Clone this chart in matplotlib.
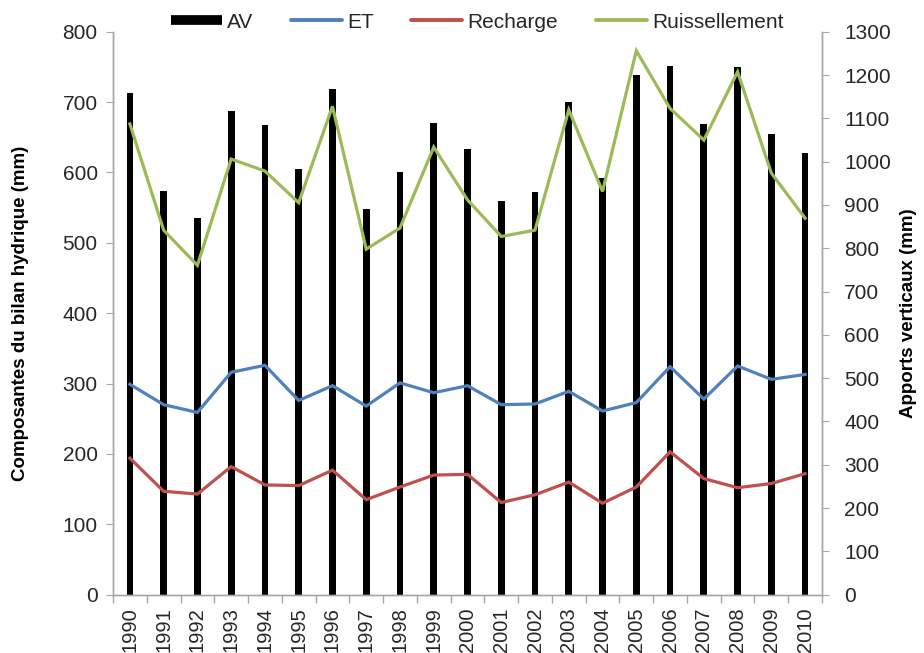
import numpy as np
import matplotlib
matplotlib.use("Agg")
import matplotlib.pyplot as plt
from matplotlib.lines import Line2D

plt.rcParams["font.family"] = ["Liberation Sans", "DejaVu Sans"]

years = [str(y) for y in range(1990, 2011)]

# Apports verticaux (mm), axe de droite
av = [1159, 933, 869, 1118, 1085, 984, 1168, 890, 975, 1090, 1028,
      910, 931, 1138, 962, 1200, 1221, 1088, 1218, 1064, 1020]

# Composantes du bilan (mm), axe de gauche
et = [299, 270, 259, 316, 326, 276, 297, 268, 301, 287, 297,
      270, 271, 289, 261, 273, 324, 278, 325, 306, 313]
recharge = [194, 147, 143, 182, 156, 155, 177, 135, 153, 170, 171,
            131, 142, 160, 130, 153, 203, 165, 152, 158, 172]
ruissellement = [669, 518, 468, 619, 602, 557, 694, 491, 521, 636, 561,
                 509, 518, 689, 573, 773, 691, 646, 743, 599, 535]

C_ET = "#4F81BD"
C_RE = "#C0504D"
C_RU = "#9BBB59"
GRID = "#A6A6A6"
TXT = "#262626"

fig = plt.figure(figsize=(9.24, 6.53), dpi=100)
ax = fig.add_axes([113 / 924, 1 - 594.7 / 653, (822 - 113) / 924, (594.7 - 31.7) / 653])
ax2 = ax.twinx()
# lines on the left axis must sit above the bars of the right axis
ax.set_zorder(ax2.get_zorder() + 1)
ax.patch.set_visible(False)

x = np.arange(len(years))
ax2.bar(x, av, width=0.2, color="black", zorder=2)
ax.plot(x, et, color=C_ET, lw=2.3, solid_joinstyle="miter")
ax.plot(x, recharge, color=C_RE, lw=2.3, solid_joinstyle="miter")
ax.plot(x, ruissellement, color=C_RU, lw=2.3, solid_joinstyle="miter")

ax.set_xlim(-0.5, len(years) - 0.5)
ax.set_ylim(0, 800)
ax2.set_ylim(0, 1300)
ax.set_yticks(range(0, 801, 100))
ax2.set_yticks(range(0, 1301, 100))

ax.set_xticks(x)
ax.set_xticklabels(years, rotation=90, va="top", fontsize=14.5, color=TXT)
ax.set_xticks(np.arange(-0.5, len(years)), minor=True)
ax.tick_params(axis="x", which="major", length=0, pad=9)
ax.tick_params(axis="x", which="minor", length=6, color=GRID, width=1)
ax.tick_params(axis="y", length=5, color=GRID, labelsize=15, labelcolor=TXT, pad=6)
ax2.tick_params(axis="y", length=5, color=GRID, labelsize=15, labelcolor=TXT, pad=11)
ax2.tick_params(axis="x", length=0)

for a in (ax, ax2):
    a.spines["top"].set_visible(False)
    for s in ("left", "right", "bottom"):
        a.spines[s].set_color(GRID)
        a.spines[s].set_linewidth(1)

ax.set_ylabel("Composantes du bilan hydrique (mm)", fontsize=13.5, fontweight="bold",
              color="black")
ax2.set_ylabel("Apports verticaux (mm)", fontsize=13.5, fontweight="bold",
               color="black")
ax.yaxis.set_label_coords(-0.118, 0.5)
ax2.yaxis.set_label_coords(1.110, 0.5)

handles = [
    Line2D([], [], color="black", lw=7, solid_capstyle="butt"),
    Line2D([], [], color=C_ET, lw=2.8, solid_capstyle="round"),
    Line2D([], [], color=C_RE, lw=2.8, solid_capstyle="round"),
    Line2D([], [], color=C_RU, lw=2.8, solid_capstyle="round"),
]
fig.legend(handles, ["AV", "ET", "Recharge", "Ruissellement"], ncol=4,
           loc="center", bbox_to_anchor=(477 / 924, 1 - 22 / 653), frameon=False,
           fontsize=15, handlelength=2.45, handletextpad=0.25, columnspacing=1.8,
           labelcolor=TXT)

fig.savefig("out.png", dpi=100)
